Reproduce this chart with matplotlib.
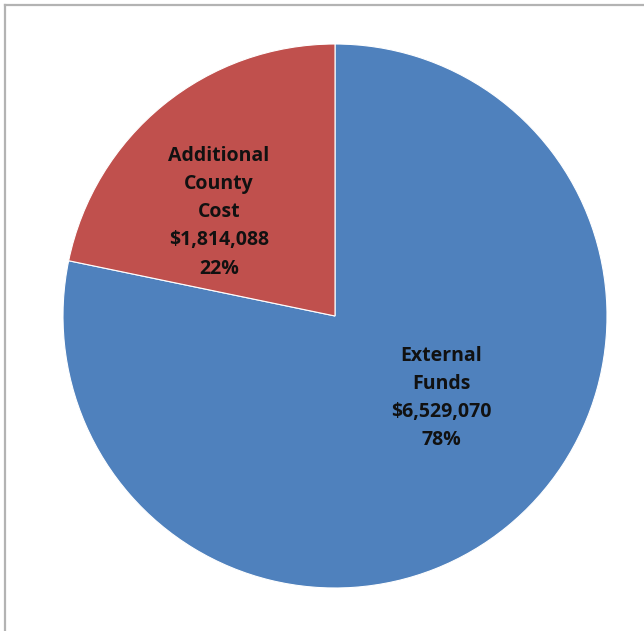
import matplotlib
matplotlib.use("Agg")
import matplotlib.pyplot as plt
from matplotlib.lines import Line2D

categories = ["External\nFunds", "Additional\nCounty\nCost"]
amounts = [6529070, 1814088]
colors = ["#4F81BD", "#C0504D"]

W, H = 644, 631
fig = plt.figure(figsize=(W / 100, H / 100), dpi=100)
fig.patch.set_facecolor("white")

# Pie centred at pixel (335, 316) with a radius of 272 px
cx, cy, r = 335, 316, 272
ax = fig.add_axes([0, 0, 1, 1])

# External funds start at 12 o'clock and run clockwise
wedges, _ = ax.pie(amounts, colors=colors, startangle=90, counterclock=False,
                   radius=1.0, center=(0, 0),
                   wedgeprops=dict(edgecolor="white", linewidth=0.8))

ax.set_xlim(-cx / r, (W - cx) / r)
ax.set_ylim(-(H - cy) / r, cy / r)
ax.set_aspect("equal")
ax.axis("off")

total = sum(amounts)
label_pos = [((441 - cx) / r, (cy - 398) / r), ((219 - cx) / r, (cy - 212) / r)]
for name, amt, (lx, ly) in zip(categories, amounts, label_pos):
    pct = round(100 * amt / total)
    ax.text(lx, ly, f"{name}\n${amt:,}\n{pct}%", ha="center", va="center",
            fontsize=14, fontweight="bold", family="Open Sans",
            color="#111111", linespacing=1.55)

# Chart-area frame (top and left edges)
fig.add_artist(Line2D([5 / W, 5 / W], [0, 1 - 5 / H], transform=fig.transFigure,
                      color="#b3b3b3", linewidth=1.6))
fig.add_artist(Line2D([5 / W, 1], [1 - 5 / H, 1 - 5 / H], transform=fig.transFigure,
                      color="#b3b3b3", linewidth=1.6))

fig.savefig("out.png", dpi=100, facecolor="white")
